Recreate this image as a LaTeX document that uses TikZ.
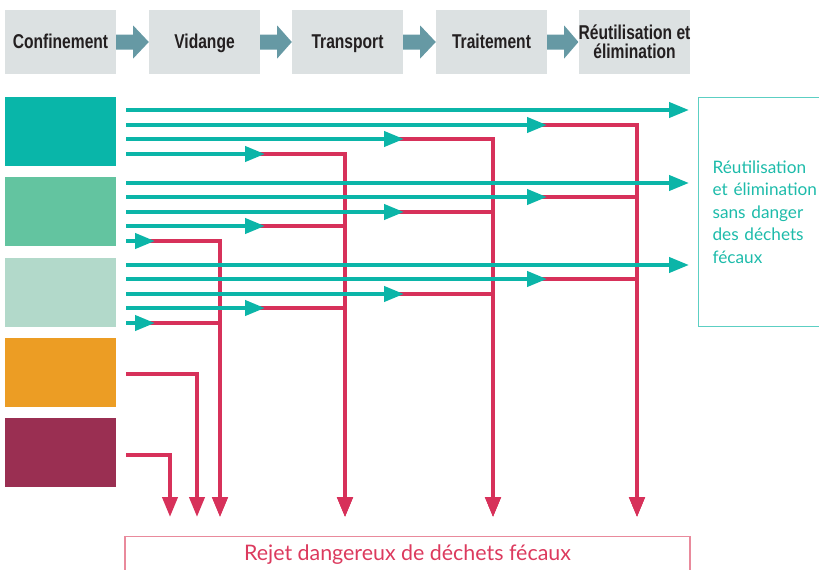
\documentclass[tikz,border=0pt]{standalone}
\usepackage{fontspec}
\setmainfont{Lato}
\newfontfamily\headfont[FakeStretch=0.78]{Liberation Sans}
\usetikzlibrary{arrows.meta,calc}
\definecolor{hgray}{HTML}{DCE1E2}
\definecolor{harrowc}{HTML}{6699A4}
\definecolor{hdark}{HTML}{231F20}
\definecolor{tealc}{HTML}{0BB5A8}
\definecolor{boxa}{HTML}{09B6A9}
\definecolor{boxb}{HTML}{63C4A0}
\definecolor{boxc}{HTML}{B2D9CA}
\definecolor{boxd}{HTML}{EC9D24}
\definecolor{boxe}{HTML}{9A2F52}
\definecolor{redc}{HTML}{D7315A}
\definecolor{redtext}{HTML}{DC3A5E}
\definecolor{pinkline}{HTML}{E98A9C}
\definecolor{oktext}{HTML}{1DBBAA}
\definecolor{okline}{HTML}{5CCFC3}
\begin{document}
\begin{tikzpicture}[x=1pt,y=-1pt,
  hbox/.style={fill=hgray, minimum width=111pt, minimum height=64pt, inner sep=0pt,
    font=\headfont\bfseries\fontsize{20}{19.5}\selectfont, text=hdark, align=center},
  hone/.style={hbox, text height=12pt, text depth=0pt},
  harrow/.style={fill=harrowc},
  sbox/.style={minimum width=111pt, minimum height=69pt, inner sep=0pt},
  tline/.style={draw=tealc, line width=4pt, -{Triangle[length=20pt,width=15pt]}},
  rline/.style={draw=redc, line width=4pt, -{Triangle[length=20pt,width=15pt]}},
  okbox/.style={draw=okline, line width=1.2pt, anchor=north west, minimum height=229pt,
    inner xsep=14pt, text width=116pt, align=left, text=oktext,
    font=\fontsize{17.2}{22.5}\selectfont},
  rejbox/.style={draw=pinkline, line width=1.2pt, anchor=north, minimum width=565pt,
    inner ysep=0pt, text height=24pt, text depth=30pt, text=redtext,
    font=\fontsize{21.4}{26}\selectfont}
]
\useasboundingbox (0,0) rectangle (819,570);

% header
\node[hone] (h1) at (60.5,42) {Confinement};
\node[hone] (h2) at (204.5,42) {Vidange};
\node[hone] (h3) at (347.5,42) {Transport};
\node[hone] (h4) at (491.5,42) {Traitement};
\node[hbox] (h5) at (634.5,42) {Réutilisation et\\élimination};
\foreach \a/\b in {h1/h2,h2/h3,h3/h4,h4/h5}
  \fill[harrow] ($(\a.east)+(0,-7.5)$) -- ($(\a.east)+(17,-7.5)$) -- ($(\a.east)+(17,-16.5)$)
    -- (\b.west) -- ($(\a.east)+(17,16.5)$) -- ($(\a.east)+(17,7.5)$) -- ($(\a.east)+(0,7.5)$) -- cycle;

% source boxes
\node[sbox, fill=boxa] (s1) at (60.5,131.5) {};
\node[sbox, fill=boxb] (s2) at (60.5,211.5) {};
\node[sbox, fill=boxc] (s3) at (60.5,292.5) {};
\node[sbox, fill=boxd] (s4) at (60.5,372.5) {};
\node[sbox, fill=boxe] (s5) at (60.5,452.5) {};

% outcome boxes
\node[okbox] (ok) at (698,97) {Réutilisation\\et élimination\\sans danger\\des déchets\\fécaux};
\node[rejbox] (rej) at (407.5,536) {Rejet dangereux de déchets fécaux};

% drop columns
\coordinate (d1) at (170,517);
\coordinate (d2) at (197,517);
\coordinate (d3) at (220,517);
\coordinate (d4) at (345,517);
\coordinate (d5) at (493,517);
\coordinate (d6) at (637,517);

% unsafe (red) paths
\draw[rline] (537,125) -| (d6);
\draw[rline] (394,139) -| (d5);
\draw[rline] (255,154) -| (d4);
\draw[rline] (537,197) -| (d6);
\draw[rline] (394,212) -| (d5);
\draw[rline] (255,226) -| (d4);
\draw[rline] (145,241) -| (d3);
\draw[rline] (537,279) -| (d6);
\draw[rline] (394,294) -| (d5);
\draw[rline] (255,308) -| (d4);
\draw[rline] (145,323) -| (d3);
\draw[rline] ($(s4.east)+(10,1.5)$) -| (d2);
\draw[rline] ($(s5.east)+(10,2.5)$) -| (d1);

% safe (teal) paths
\draw[tline] (126,110) -- (689,110);
\draw[tline] (126,125) -- (547,125);
\draw[tline] (126,139) -- (404,139);
\draw[tline] (126,154) -- (265,154);
\draw[tline] (126,183) -- (689,183);
\draw[tline] (126,197) -- (547,197);
\draw[tline] (126,212) -- (404,212);
\draw[tline] (126,226) -- (265,226);
\draw[tline] (126,241) -- (155,241);
\draw[tline] (126,265) -- (689,265);
\draw[tline] (126,279) -- (547,279);
\draw[tline] (126,294) -- (404,294);
\draw[tline] (126,308) -- (265,308);
\draw[tline] (126,323) -- (155,323);
\end{tikzpicture}
\end{document}
